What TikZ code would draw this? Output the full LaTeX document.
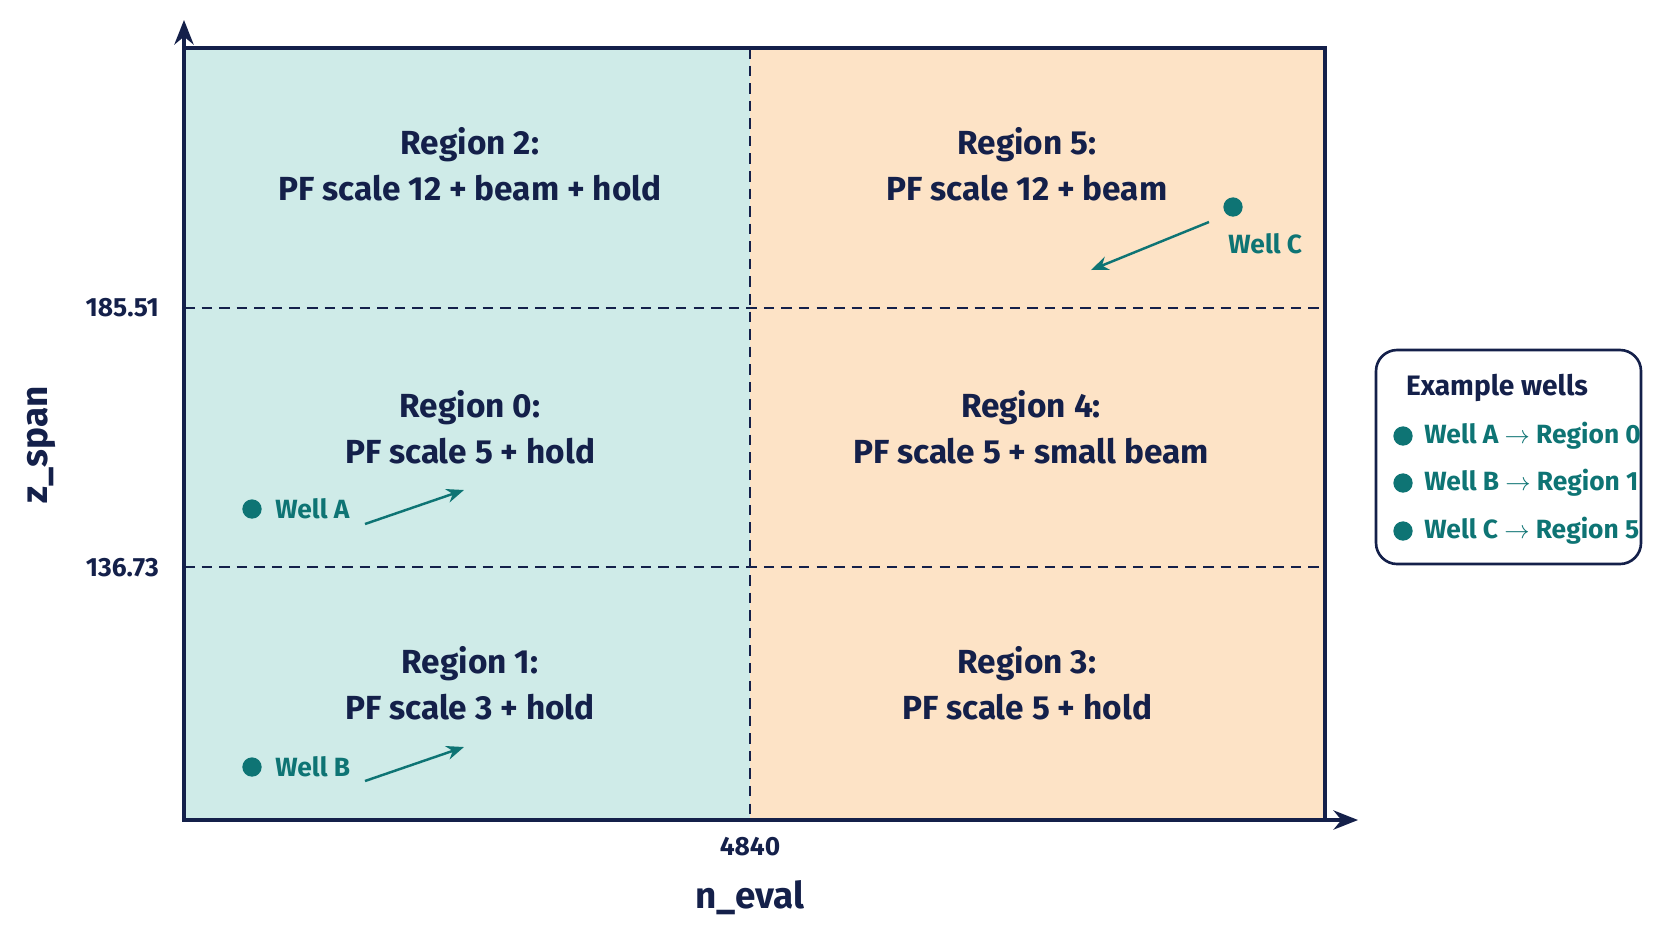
\documentclass[tikz,border=0pt]{standalone}
\usepackage{fontspec}
\setmainfont{Fira Sans}
\usetikzlibrary{arrows.meta}
\definecolor{navy}{HTML}{14204A}
\definecolor{tealc}{HTML}{0E7474}
\definecolor{cfill}{HTML}{CFEBE8}
\definecolor{ofill}{HTML}{FDE3C6}
\tikzset{
 reg/.style={align=center,text=navy,font=\fontsize{19}{26}\selectfont\bfseries},
 tick/.style={text=navy,font=\fontsize{15}{18}\selectfont\bfseries},
 well/.style={text=tealc,font=\fontsize{15}{18}\selectfont\bfseries,anchor=west,inner sep=0},
 dot/.style={circle,fill=tealc,inner sep=0,minimum size=11pt},
 warr/.style={draw=tealc,line width=1.4pt,-{Stealth[length=10pt,width=8pt]}},
 dsh/.style={navy,line width=1.1pt,dash pattern=on 6pt off 4pt},
}
\begin{document}
\begin{tikzpicture}[x=0.02cm,y=-0.02cm]
\useasboundingbox (0,0) rectangle (1672,941);
\fill[cfill] (184,48) rectangle (750,820);
\fill[ofill] (750,48) rectangle (1325,820);
\draw[dsh] (750,48) -- (750,820);
\draw[dsh] (184,308) -- (1325,308);
\draw[dsh] (184,567) -- (1325,567);
\draw[navy,line width=1.8pt] (184,48) rectangle (1325,820);
\coordinate (o) at (184,820);
\coordinate (ytip) at (184,20);
\coordinate (xtip) at (1358,820);
\draw[navy,line width=1.8pt,-{Stealth[length=14pt,width=11pt]}] (o) -- (ytip);
\draw[navy,line width=1.8pt,-{Stealth[length=14pt,width=11pt]}] (o) -- (xtip);
\node[tick,anchor=east] (t1) at (165,308) {185.51};
\node[tick,anchor=east] (t2) at (165,568) {136.73};
\node[tick] (t3) at (750,847) {4840};
\node[text=navy,font=\fontsize{21}{24}\selectfont\bfseries] (xl) at (750,898) {n\_eval};
\node[text=navy,font=\fontsize{21}{24}\selectfont\bfseries,rotate=90] (yl) at (41,445) {z\_span};
\node[reg] (r2) at (470,164) {Region 2:\\PF scale 12 + beam + hold};
\node[reg] (r5) at (1027,164) {Region 5:\\PF scale 12 + beam};
\node[reg] (r0) at (470,427) {Region 0:\\PF scale 5 + hold};
\node[reg] (r4) at (1031,427) {Region 4:\\PF scale 5 + small beam};
\node[reg] (r1) at (470,683) {Region 1:\\PF scale 3 + hold};
\node[reg] (r3) at (1027,683) {Region 3:\\PF scale 5 + hold};
\node[dot] (wc) at (1233,207) {};
\node[well] (wcl) at (1228,244) {Well C};
\coordinate (c1) at (1209,222); \coordinate (c2) at (1091,270);
\draw[warr] (c1) -- (c2);
\node[dot] (wa) at (252,509) {};
\node[well] (wal) at (275,509) {Well A};
\coordinate (a1) at (365,524); \coordinate (a2) at (464,490);
\draw[warr] (a1) -- (a2);
\node[dot] (wb) at (252,767) {};
\node[well] (wbl) at (275,767) {Well B};
\coordinate (b1) at (365,781); \coordinate (b2) at (464,747);
\draw[warr] (b1) -- (b2);
\draw[navy,line width=1.5pt,rounded corners=12pt,fill=white] (1376,350) rectangle (1641,564);
\node[text=navy,font=\fontsize{16}{18}\selectfont\bfseries] (lt) at (1497,388) {Example wells};
\node[dot] (l1) at (1403,436) {}; \node[well] (l1t) at (1424,436) {Well A $\rightarrow$ Region 0};
\node[dot] (l2) at (1403,483) {}; \node[well] (l2t) at (1424,483) {Well B $\rightarrow$ Region 1};
\node[dot] (l3) at (1403,531) {}; \node[well] (l3t) at (1424,531) {Well C $\rightarrow$ Region 5};
\end{tikzpicture}
\end{document}
